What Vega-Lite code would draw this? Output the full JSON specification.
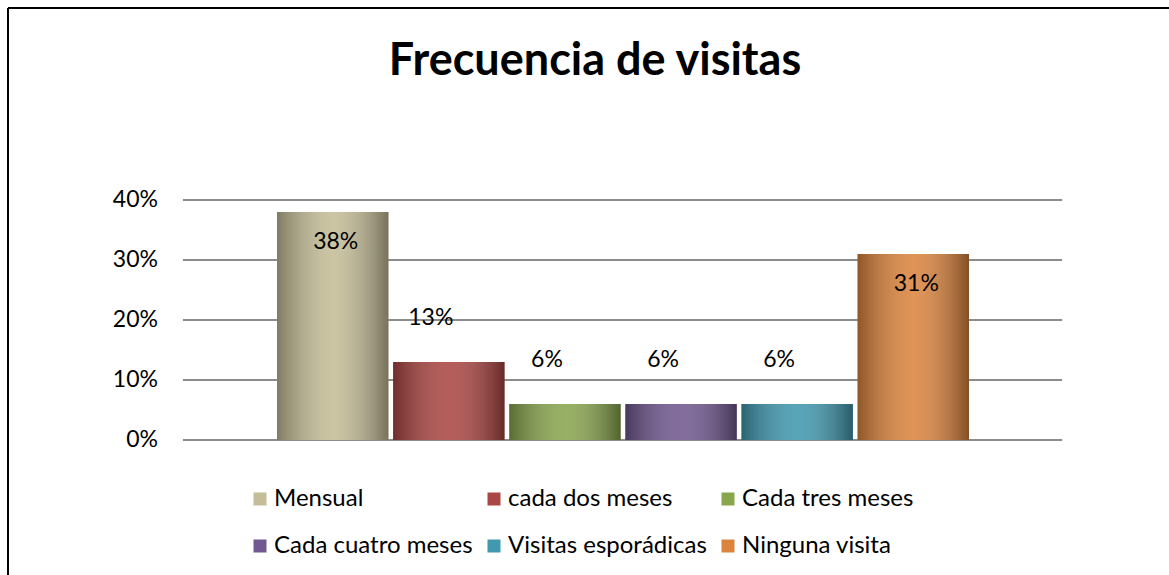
{
  "$schema": "https://vega.github.io/schema/vega-lite/v6.json",
  "width": 1161,
  "height": 567,
  "autosize": {"type": "none"},
  "padding": {"left": 8, "top": 8, "right": 0, "bottom": 0},
  "background": "white",
  "config": {
    "view": {"stroke": "black", "strokeWidth": 2, "strokeDash": [1161, 1728, 567, 0]},
    "font": "Lato"
  },
  "datasets": {
    "visitas": [
      {"categoria": "Mensual", "valor": 0.38},
      {"categoria": "cada dos meses", "valor": 0.13},
      {"categoria": "Cada tres meses", "valor": 0.06},
      {"categoria": "Cada cuatro meses", "valor": 0.06},
      {"categoria": "Visitas esporádicas", "valor": 0.06},
      {"categoria": "Ninguna visita", "valor": 0.31}
    ],
    "rejilla": [
      {"nivel": 0}, {"nivel": 0.1}, {"nivel": 0.2}, {"nivel": 0.3}, {"nivel": 0.4}
    ],
    "titulo": [
      {"texto": "Frecuencia de visitas"}
    ]
  },
  "layer": [
    {
      "data": {"name": "rejilla"},
      "mark": {"type": "rule", "color": "#8c8c8c", "strokeWidth": 2},
      "encoding": {
        "y": {
          "field": "nivel",
          "type": "quantitative",
          "scale": {"domain": [-0.225, 0.72], "nice": false, "zero": false},
          "axis": null
        },
        "x": {"datum": "Mensual", "bandPosition": -0.844, "axis": null},
        "x2": {"datum": "Ninguna visita", "bandPosition": 1.836}
      }
    },
    {
      "data": {"name": "rejilla"},
      "mark": {"type": "text", "font": "Lato", "fontSize": 23, "color": "black", "align": "right", "baseline": "middle", "dx": -25},
      "encoding": {
        "y": {"field": "nivel", "type": "quantitative", "axis": null},
        "x": {"datum": "Mensual", "bandPosition": -0.844, "axis": null},
        "text": {"field": "nivel", "type": "quantitative", "format": ".0%"}
      }
    },
    {
      "data": {"name": "titulo"},
      "mark": {"type": "text", "font": "Lato", "fontSize": 45, "fontWeight": "bold", "color": "black", "align": "center", "baseline": "alphabetic"},
      "encoding": {
        "y": {"datum": 0.6083, "type": "quantitative", "axis": null},
        "x": {"datum": "Cada tres meses", "bandPosition": 0.77, "axis": null},
        "text": {"field": "texto", "type": "nominal"}
      }
    },
    {
      "data": {"name": "visitas"},
      "mark": {"type": "bar"},
      "encoding": {
        "x": {
          "field": "categoria",
          "type": "nominal",
          "axis": null,
          "scale": {
            "domain": ["Mensual", "cada dos meses", "Cada tres meses", "Cada cuatro meses", "Visitas esporádicas", "Ninguna visita"],
            "range": [269, 961],
            "paddingInner": 0.04,
            "paddingOuter": 0
          }
        },
        "y": {"field": "valor", "type": "quantitative", "axis": null},
        "color": {
          "field": "categoria",
          "type": "nominal",
          "scale": {
            "domain": ["Mensual", "cada dos meses", "Cada tres meses", "Cada cuatro meses", "Visitas esporádicas", "Ninguna visita"],
            "range": ["#C4BD97", "#AA4643", "#89A54E", "#71588F", "#4198AF", "#DB843D"]
          },
          "legend": {
            "title": null,
            "orient": "none",
            "legendX": 240,
            "legendY": 479,
            "columns": 3,
            "direction": "horizontal",
            "symbolType": "square",
            "symbolSize": 169,
            "symbolStrokeWidth": 0,
            "symbolOpacity": 1,
            "labelFontSize": 24,
            "labelFont": "Lato",
            "labelColor": "black",
            "columnPadding": 9,
            "rowPadding": 23,
            "labelOffset": 2,
            "labelLimit": 0
          }
        }
      }
    },
    {
      "data": {"name": "visitas"},
      "mark": {
        "type": "bar",
        "fill": {
          "gradient": "linear",
          "x1": 0, "x2": 1, "y1": 0, "y2": 0,
          "stops": [
            {"offset": 0, "color": "rgba(0,0,0,0.35)"},
            {"offset": 0.5, "color": "rgba(255,255,255,0.12)"},
            {"offset": 1, "color": "rgba(0,0,0,0.4)"}
          ]
        }
      },
      "encoding": {
        "x": {"field": "categoria", "type": "nominal", "axis": null},
        "y": {"field": "valor", "type": "quantitative", "axis": null}
      }
    },
    {
      "data": {"name": "visitas"},
      "transform": [{"filter": "datum.valor >= 0.2"}],
      "mark": {"type": "text", "font": "Lato", "fontSize": 23, "color": "black", "dy": 30, "dx": 3},
      "encoding": {
        "x": {"field": "categoria", "type": "nominal", "axis": null},
        "y": {"field": "valor", "type": "quantitative", "axis": null},
        "text": {"field": "valor", "type": "quantitative", "format": ".0%"}
      }
    },
    {
      "data": {"name": "visitas"},
      "transform": [{"filter": "datum.valor < 0.2"}],
      "mark": {"type": "text", "font": "Lato", "fontSize": 23, "color": "black", "dy": -44, "dx": -18},
      "encoding": {
        "x": {"field": "categoria", "type": "nominal", "axis": null},
        "y": {"field": "valor", "type": "quantitative", "axis": null},
        "text": {"field": "valor", "type": "quantitative", "format": ".0%"}
      }
    }
  ]
}
